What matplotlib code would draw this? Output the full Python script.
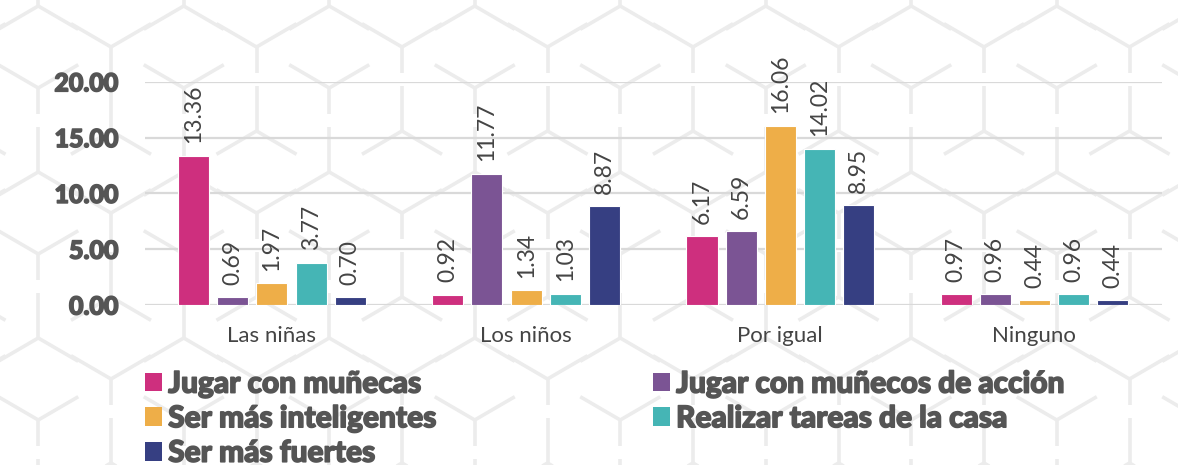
import matplotlib
matplotlib.use("Agg")
import matplotlib.pyplot as plt
import matplotlib.patheffects as pe
from matplotlib.patches import Patch
import numpy as np

categories = ["Las niñas", "Los niños", "Por igual", "Ninguno"]
series_names = ["Jugar con muñecas", "Jugar con muñecos de acción",
                "Ser más inteligentes", "Realizar tareas de la casa",
                "Ser más fuertes"]
jugar_munecas = [13.36, 0.92, 6.17, 0.97]
jugar_accion = [0.69, 11.77, 6.59, 0.96]
inteligentes = [1.97, 1.34, 16.06, 0.44]
tareas_casa = [3.77, 1.03, 14.02, 0.96]
fuertes = [0.70, 8.87, 8.95, 0.44]
colors = ["#CE2F7E", "#7B5494", "#EEAE48", "#45B5B5", "#363F82"]
yticks = [0, 5, 10, 15, 20]

plt.rcParams['font.family'] = ['Lato', 'DejaVu Sans']
text_gray = "#555555"
heavy = [pe.withStroke(linewidth=1.1, foreground=text_gray)]

W, H = 1178, 465
fig = plt.figure(figsize=(W / 100, H / 100), dpi=100)

# faint cube pattern behind everything (pixel coordinates)
bg = fig.add_axes([0, 0, 1, 1], zorder=-1)
bg.set_xlim(0, W)
bg.set_ylim(H, 0)
bg.axis('off')
pw, ph = 145.5, 166.0
dx, dy = pw / 2 * 0.55, pw / 2 * 0.32   # arm direction (30 deg), with gaps

def line(x0, y0, x1, y1):
    bg.plot([x0, x1], [y0, y1], color='#ececec', lw=2.6,
            solid_capstyle='butt')

for k in range(-1, 4):
    for i in range(-1, 10):
        xa = 111 + i * pw
        xb = xa + pw / 2
        ya = 47 + k * ph
        yb = ya + 41
        yc = ya + 84
        yd = yb + 84
        # Y shapes: arms up, stem down
        for (x, y) in [(xa, ya), (xb, yb)]:
            line(x, y, x - dx, y - dy)
            line(x, y, x + dx, y - dy)
            line(x, y, x, y + 26)
        # inverted Y: arms down, stem up
        for (x, y) in [(xa, yc), (xb, yd)]:
            line(x, y, x - dx, y + dy)
            line(x, y, x + dx, y + dy)
            line(x, y, x, y - 45)

ax = fig.add_axes([0.123, 0.344, 0.863, 0.480], zorder=1)

x = np.arange(len(categories))
step = 0.154
width = 0.122
all_series = [jugar_munecas, jugar_accion, inteligentes, tareas_casa, fuertes]
for i, vals in enumerate(all_series):
    pos = x + (i - 2) * step
    ax.bar(pos, vals, width, color=colors[i], edgecolor='white',
           linewidth=0.8, zorder=3)
    for xp, v in zip(pos, vals):
        ax.annotate(f"{v:.2f}", (xp, v), xytext=(0, 9),
                    textcoords='offset points', rotation=90,
                    ha='center', va='bottom', fontsize=16.5,
                    color='#444444', annotation_clip=False)

ax.set_xlim(-0.5, 3.5)
ax.set_ylim(0, 20)
ax.set_yticks(yticks)
ax.set_yticklabels([f"{t:.2f}" for t in yticks], fontsize=18,
                   fontweight='black', color=text_gray)
for t in ax.get_yticklabels():
    t.set_path_effects(heavy)
ax.set_xticks(x)
ax.set_xticklabels(categories, fontsize=16, fontweight='normal',
                   color='#444444')
ax.tick_params(axis='both', length=0)
ax.tick_params(axis='y', pad=19)
ax.tick_params(axis='x', pad=15)
ax.grid(axis='y', color='#d9d9d9', linewidth=1.6, zorder=0)
for sp in ax.spines.values():
    sp.set_visible(False)
ax.patch.set_alpha(0)

order = [0, 2, 4, 1, 3]
handles = [Patch(facecolor=colors[i], edgecolor='none') for i in order]
labels = [series_names[i] for i in order]
leg = fig.legend(handles, labels, ncol=2, loc='upper left',
                 bbox_to_anchor=(0.123, 0.205), frameon=False,
                 prop={'size': 21.5, 'weight': 'black'}, labelcolor=text_gray,
                 handlelength=0.58, handleheight=0.58, handletextpad=0.2,
                 labelspacing=0.22, columnspacing=7.2, borderaxespad=0,
                 borderpad=0)
for t in leg.get_texts():
    t.set_path_effects(heavy)

fig.savefig("out.png", dpi=100)
